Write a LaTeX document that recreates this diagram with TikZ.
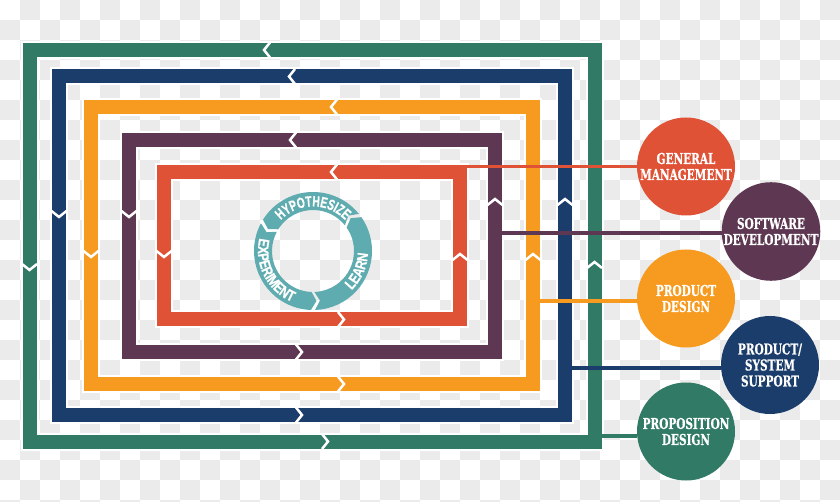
\documentclass[tikz,border=0pt]{standalone}
\usepackage{fontspec}
\newfontfamily\labfont[FakeStretch=0.70,FakeBold=0.6]{DejaVu Serif}
\newfontfamily\ringfont[FakeStretch=0.68,FakeBold=0.5]{Liberation Sans Bold}
\newfontfamily\ringfontw[FakeStretch=0.80,FakeBold=0.5]{Liberation Sans Bold}
\usetikzlibrary{decorations.text,calc}
\definecolor{cGreen}{HTML}{317A65}
\definecolor{cBlue}{HTML}{1B3D6B}
\definecolor{cOrange}{HTML}{F69B1F}
\definecolor{cPurple}{HTML}{5E3852}
\definecolor{cRed}{HTML}{E05236}
\definecolor{cTeal}{HTML}{5FACB0}
\definecolor{cCheck}{HTML}{EBEBEB}
\newcommand\ringseg[2]{%
  \fill[cTeal] (#1:59pt) arc[start angle=#1, end angle=#2, radius=59pt]
    -- ({#2+6}:50pt) -- (#2:41pt) arc[start angle=#2, end angle=#1, radius=41pt]
    -- ({#1+6}:50pt) -- cycle;}
\tikzset{
  band/.style={line width=14pt, line join=miter},
  halo/.style={draw=white, line width=18pt, line join=miter},
  conn/.style={line width=3.5pt},
  chevline/.style={draw=white, line width=2.5pt, line join=miter},
  chevL/.pic={\draw[chevline] (6,-7.5) -- (0,0) -- (6,7.5);},
  chevR/.pic={\draw[chevline] (-6,-7.5) -- (0,0) -- (-6,7.5);},
  chevD/.pic={\draw[chevline] (-7.5,-6) -- (0,0) -- (7.5,-6);},
  chevU/.pic={\draw[chevline] (-7.5,6) -- (0,0) -- (7.5,6);},
  circ/.style={circle, minimum size=98pt, inner sep=0pt, text=white, align=center,
    font=\labfont\bfseries\fontsize{15}{16}\selectfont},
  ringtext/.style={decorate, decoration={text along path, text align=center, text color=white,
    text={#1}}},
}
\begin{document}
\begin{tikzpicture}[x=1pt,y=-1pt]
\useasboundingbox (0,0) rectangle (840,502);
\begin{scope}
\clip (0,0) rectangle (840,502);
\fill[white] (0,0) rectangle (840,502);
\foreach \i in {0,...,41}{\foreach \j in {0,...,25}{%
  \pgfmathtruncatemacro\s{mod(\i+\j,2)}%
  \ifnum\s=1 \fill[cCheck] (20*\i,20*\j) rectangle ++(20,20);\fi}}
\end{scope}

% nested loops
\draw[halo] (29.5,50) rectangle (594.5,441.5);
\draw[band,cGreen] (29.5,50) rectangle (594.5,441.5);
\draw[halo] (59,76.5) rectangle (565,415);
\draw[band,cBlue] (59,76.5) rectangle (565,415);
\draw[halo] (91,107) rectangle (533,384);
\draw[band,cOrange] (91,107) rectangle (533,384);
\draw[halo] (129,140) rectangle (495,352);
\draw[band,cPurple] (129,140) rectangle (495,352);
\draw[halo] (164,172) rectangle (460,319.5);
\draw[band,cRed] (164,172) rectangle (460,319.5);

% chevrons
\pic at (264,50) {chevL};
\pic at (289,76.5) {chevL};
\pic at (331,107) {chevL};
\pic at (290,140) {chevL};
\pic at (331,172) {chevL};
\pic at (29.5,270) {chevD};
\pic at (59,217) {chevD};
\pic at (91,257) {chevD};
\pic at (129,217) {chevD};
\pic at (164,257) {chevD};
\pic at (328,441.5) {chevR};
\pic at (302,415) {chevR};
\pic at (344,384) {chevR};
\pic at (302,352) {chevR};
\pic at (344,319.5) {chevR};
\pic at (594.5,262) {chevU};
\pic at (565,199) {chevU};
\pic at (533,254) {chevU};
\pic at (495,199) {chevU};
\pic at (460,254) {chevU};

% role circles
\node[circ, fill=cRed] (gm) at (686,166.5) {GENERAL\\MANAGEMENT};
\node[circ, fill=cPurple] (sd) at (771,231.5) {SOFTWARE\\DEVELOPMENT};
\node[circ, fill=cOrange] (pd) at (686,298.5) {PRODUCT\\DESIGN};
\node[circ, fill=cBlue] (pss) at (770,365) {PRODUCT/\\SYSTEM\\SUPPORT};
\node[circ, fill=cGreen] (prd) at (686,431.5) {PROPOSITION\\DESIGN};

% connectors
\coordinate (rR) at (467,166.5);
\coordinate (pR) at (502,233);
\coordinate (oR) at (540,301);
\coordinate (bR) at (572,368);
\coordinate (gR) at (602,436);
\draw[conn,cRed] (rR) -- (rR -| gm.west);
\draw[conn,cPurple] (pR) -- (pR -| sd.west);
\draw[conn,cOrange] (oR) -- (oR -| pd.west);
\draw[conn,cBlue] (bR) -- (bR -| pss.west);
\draw[conn,cGreen] (gR) -- (gR -| prd.west);

% learning cycle
\begin{scope}[shift={(313,251)}]
\ringseg{39}{148}
\ringseg{152}{268}
\ringseg{272}{395}
\begin{scope}
\ringfont\fontsize{15}{15}\selectfont
\path[ringtext=HYPOTHESIZE] (150:44.5pt) arc[start angle=150, end angle=30, radius=44.5pt];
\end{scope}
\begin{scope}
\ringfontw\fontsize{15}{15}\selectfont
\path[ringtext=LEARN] (-84:55pt) arc[start angle=-84, end angle=36, radius=55pt];
\path[ringtext=EXPERIMENT] (147:55pt) arc[start angle=147, end angle=267, radius=55pt];
\end{scope}
\end{scope}
\end{tikzpicture}
\end{document}
